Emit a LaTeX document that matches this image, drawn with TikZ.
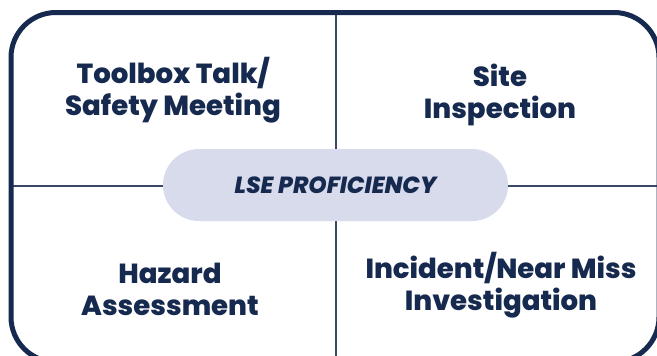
\documentclass[tikz,border=0pt]{standalone}
\usepackage{fontspec}
\setmainfont{Poppins}[BoldFont={Poppins ExtraBold},BoldItalicFont={Poppins ExtraBold Italic}]
\definecolor{navy}{HTML}{16294F}
\definecolor{pill}{HTML}{D8DBEC}
\definecolor{divider}{HTML}{3A4868}
\begin{document}
\begin{tikzpicture}[x=1pt,y=-1pt,
  frame/.style={draw=navy,line width=5pt,rounded corners=45pt},
  divline/.style={draw=divider,line width=1.4pt},
  label/.style={text=navy,font=\fontsize{27.6}{32}\selectfont\bfseries,align=center,inner sep=0pt},
  pillbox/.style={fill=pill,rounded corners=36pt,minimum width=345pt,minimum height=72pt,inner sep=0pt,
    text=navy,font=\fontsize{23.3}{26}\selectfont\bfseries\itshape}]
\useasboundingbox (0,0) rectangle (657,356);
\clip (0,0) rectangle (657,356);
\coordinate (tl) at (11,12.5);
\coordinate (br) at (659,362);
\coordinate (vt) at (336,12.5);
\coordinate (vb) at (336,362);
\coordinate (hl) at (11,186);
\coordinate (hr) at (659,186);
\draw[divline] (vt) -- (vb);
\draw[divline] (hl) -- (hr);
\draw[frame] (tl) rectangle (br);
\node[pillbox] (core) at (335.5,185) {LSE PROFICIENCY};
\node[label] (q1) at (173,90) {Toolbox Talk/\\Safety Meeting};
\node[label] (q2) at (500,95) {Site\\Inspection};
\node[label] (q3) at (170,289) {Hazard\\Assessment};
\node[label] (q4) at (501,285) {Incident/Near Miss\\Investigation};
\end{tikzpicture}
\end{document}
